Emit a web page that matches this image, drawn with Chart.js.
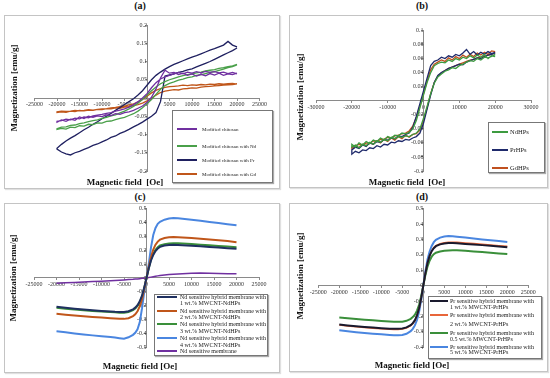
<!DOCTYPE html>
<html><head><meta charset="utf-8">
<script src="https://cdn.jsdelivr.net/npm/chart.js@4.4.1/dist/chart.umd.min.js"></script>
<style>
body{margin:0;background:#fff;width:550px;height:378px;overflow:hidden;position:relative;font-family:"Liberation Serif",serif;}
.box{position:absolute;border:1px solid #c4c4c4;box-sizing:border-box;box-shadow:1px 1px 1px #e0e0e0;}
canvas{position:absolute;}
.lbl{position:absolute;font-weight:bold;color:#111;white-space:pre;transform:translate(-50%,-50%);line-height:1;}
.ytl{position:absolute;font-weight:bold;color:#111;white-space:pre;transform:translate(-50%,-50%) rotate(-90deg);line-height:1;}
.leg{position:absolute;border:1px solid #777;background:#fff;box-sizing:border-box;box-shadow:1px 1px 1px #aaa;z-index:5;}
.li{position:absolute;white-space:pre;color:#222;line-height:1;transform:translateY(-50%);z-index:6;}
.sw{position:absolute;height:2px;transform:translateY(-50%);z-index:6;}
</style></head>
<body>
<script>
// ---------- DATA ----------
const fieldLoop = [-20000,-19000,-18000,-17000,-16000,-15000,-14000,-13000,-12000,-11000,-10000,-9000,-8000,-7000,-6000,-5000,-4000,-3000,-2000,-1000,0,1000,2000,3000,4000,5000,6000,7000,8000,9000,10000,11000,12000,13000,14000,15000,16000,17000,18000,19000,20000];

// (a) descending branch (listed in ascending field order) and ascending branch
const aPurpleDown = [-0.064,-0.062,-0.058,-0.060,-0.055,-0.057,-0.052,-0.054,-0.049,-0.047,-0.045,-0.042,-0.040,-0.036,-0.033,-0.030,-0.025,-0.018,-0.010,0.000,0.012,0.028,0.042,0.052,0.058,0.062,0.066,0.070,0.066,0.071,0.068,0.072,0.069,0.073,0.070,0.072,0.069,0.071,0.067,0.070,0.066];
const aPurpleUp   = [-0.066,-0.060,-0.064,-0.058,-0.061,-0.052,-0.056,-0.050,-0.053,-0.049,-0.051,-0.046,-0.048,-0.043,-0.045,-0.040,-0.038,-0.034,-0.028,-0.022,-0.012,0.002,0.025,0.055,0.076,0.068,0.070,0.064,0.068,0.062,0.066,0.060,0.065,0.061,0.067,0.063,0.068,0.062,0.066,0.064,0.068];
const aGreenDown  = [-0.084,-0.080,-0.079,-0.075,-0.074,-0.070,-0.068,-0.065,-0.062,-0.060,-0.056,-0.053,-0.049,-0.046,-0.041,-0.036,-0.030,-0.023,-0.014,-0.004,0.008,0.020,0.030,0.039,0.045,0.050,0.054,0.058,0.061,0.064,0.066,0.069,0.071,0.074,0.076,0.078,0.081,0.083,0.086,0.088,0.092];
const aGreenUp    = [-0.086,-0.083,-0.085,-0.080,-0.081,-0.076,-0.077,-0.072,-0.073,-0.068,-0.069,-0.064,-0.063,-0.059,-0.056,-0.053,-0.048,-0.043,-0.036,-0.027,-0.016,-0.004,0.010,0.024,0.034,0.040,0.044,0.049,0.052,0.056,0.058,0.062,0.064,0.067,0.070,0.072,0.076,0.079,0.083,0.086,0.091];
const aNavyDown   = [-0.138,-0.127,-0.118,-0.110,-0.103,-0.095,-0.087,-0.080,-0.072,-0.065,-0.057,-0.050,-0.042,-0.034,-0.026,-0.018,-0.010,-0.002,0.008,0.020,0.035,0.050,0.062,0.071,0.079,0.086,0.092,0.097,0.102,0.107,0.112,0.116,0.121,0.126,0.131,0.135,0.140,0.145,0.155,0.145,0.140];
const aNavyUp     = [-0.140,-0.148,-0.153,-0.156,-0.150,-0.146,-0.141,-0.136,-0.130,-0.126,-0.120,-0.115,-0.108,-0.104,-0.097,-0.092,-0.086,-0.079,-0.073,-0.066,-0.058,-0.050,-0.040,-0.010,0.060,0.063,0.066,0.070,0.073,0.077,0.080,0.085,0.090,0.095,0.100,0.106,0.112,0.118,0.124,0.130,0.137];
const aBrownDown  = [-0.038,-0.036,-0.037,-0.036,-0.034,-0.035,-0.034,-0.032,-0.033,-0.031,-0.030,-0.029,-0.027,-0.026,-0.024,-0.022,-0.019,-0.016,-0.011,-0.004,0.005,0.014,0.021,0.026,0.029,0.031,0.032,0.033,0.035,0.034,0.036,0.035,0.037,0.036,0.038,0.037,0.039,0.038,0.039,0.040,0.038];
const aBrownUp    = [-0.040,-0.038,-0.039,-0.036,-0.037,-0.034,-0.035,-0.033,-0.034,-0.031,-0.032,-0.029,-0.030,-0.027,-0.028,-0.025,-0.024,-0.021,-0.018,-0.014,-0.008,-0.001,0.008,0.015,0.019,0.021,0.023,0.022,0.025,0.026,0.028,0.027,0.030,0.031,0.032,0.033,0.034,0.035,0.036,0.037,0.039];

// (b)
const bNdDown = [-0.062,-0.066,-0.060,-0.063,-0.058,-0.061,-0.056,-0.058,-0.053,-0.056,-0.051,-0.053,-0.049,-0.050,-0.046,-0.047,-0.045,-0.040,-0.028,-0.010,0.008,0.026,0.040,0.050,0.053,0.055,0.054,0.058,0.056,0.060,0.058,0.062,0.060,0.064,0.061,0.065,0.062,0.066,0.060,0.064,0.063];
const bNdUp   = [-0.066,-0.063,-0.067,-0.062,-0.064,-0.059,-0.062,-0.057,-0.059,-0.055,-0.057,-0.052,-0.054,-0.051,-0.052,-0.050,-0.051,-0.048,-0.046,-0.040,-0.025,-0.008,0.010,0.025,0.034,0.038,0.042,0.044,0.047,0.046,0.050,0.052,0.055,0.057,0.056,0.060,0.058,0.062,0.061,0.063,0.066];
const bPrDown = [-0.070,-0.066,-0.068,-0.063,-0.065,-0.060,-0.062,-0.058,-0.059,-0.055,-0.056,-0.053,-0.054,-0.050,-0.051,-0.048,-0.046,-0.038,-0.022,-0.004,0.014,0.032,0.050,0.056,0.058,0.062,0.060,0.064,0.062,0.066,0.064,0.068,0.073,0.066,0.070,0.065,0.069,0.066,0.070,0.067,0.069];
const bPrUp   = [-0.076,-0.072,-0.074,-0.070,-0.071,-0.067,-0.068,-0.064,-0.066,-0.062,-0.063,-0.059,-0.060,-0.057,-0.058,-0.055,-0.056,-0.053,-0.051,-0.046,-0.032,-0.012,0.008,0.026,0.036,0.040,0.043,0.046,0.048,0.050,0.052,0.051,0.055,0.057,0.059,0.061,0.060,0.063,0.065,0.066,0.068];
const bGdDown = [-0.066,-0.064,-0.062,-0.063,-0.060,-0.061,-0.057,-0.058,-0.055,-0.055,-0.052,-0.053,-0.050,-0.049,-0.047,-0.046,-0.043,-0.036,-0.024,-0.008,0.010,0.028,0.044,0.052,0.055,0.058,0.056,0.061,0.058,0.063,0.060,0.065,0.062,0.066,0.063,0.068,0.065,0.069,0.066,0.071,0.070];
const bGdUp   = [-0.068,-0.064,-0.067,-0.062,-0.064,-0.060,-0.062,-0.057,-0.060,-0.055,-0.058,-0.053,-0.056,-0.051,-0.054,-0.049,-0.052,-0.048,-0.047,-0.042,-0.028,-0.010,0.010,0.026,0.035,0.040,0.043,0.046,0.048,0.050,0.052,0.054,0.056,0.058,0.059,0.061,0.062,0.064,0.065,0.066,0.068];

// (c) and (d) field values
const fieldCurve = [-20000,-18000,-16000,-14000,-12000,-10000,-8000,-7000,-6000,-5000,-4000,-3000,-2500,-2000,-1500,-1000,-500,0,500,1000,1500,2000,2500,3000,4000,5000,6000,7000,8000,10000,12000,14000,16000,18000,20000];

const cNavy   = [-0.208,-0.215,-0.222,-0.228,-0.233,-0.238,-0.242,-0.244,-0.245,-0.245,-0.240,-0.226,-0.214,-0.196,-0.168,-0.128,-0.068,0,0.068,0.126,0.166,0.194,0.212,0.224,0.234,0.238,0.239,0.238,0.236,0.232,0.228,0.224,0.219,0.214,0.210];
const cBrown  = [-0.258,-0.265,-0.271,-0.276,-0.281,-0.286,-0.290,-0.292,-0.294,-0.295,-0.290,-0.275,-0.262,-0.240,-0.205,-0.155,-0.080,0,0.080,0.150,0.205,0.240,0.262,0.276,0.288,0.293,0.295,0.294,0.292,0.288,0.283,0.278,0.272,0.266,0.258];
const cGreen  = [-0.215,-0.222,-0.228,-0.233,-0.238,-0.242,-0.246,-0.248,-0.250,-0.250,-0.245,-0.232,-0.220,-0.202,-0.175,-0.135,-0.072,0,0.072,0.133,0.175,0.203,0.222,0.234,0.244,0.248,0.250,0.250,0.248,0.244,0.240,0.235,0.230,0.226,0.222];
const cBlue   = [-0.385,-0.392,-0.400,-0.407,-0.414,-0.420,-0.426,-0.430,-0.434,-0.438,-0.428,-0.410,-0.395,-0.370,-0.320,-0.220,-0.100,0,0.100,0.220,0.310,0.360,0.390,0.405,0.420,0.428,0.432,0.430,0.427,0.420,0.412,0.404,0.396,0.388,0.380];
const cPurple = [-0.038,-0.035,-0.032,-0.029,-0.026,-0.023,-0.020,-0.018,-0.016,-0.014,-0.012,-0.010,-0.008,-0.007,-0.005,-0.003,-0.002,0,0.003,0.006,0.009,0.012,0.015,0.018,0.022,0.025,0.027,0.029,0.031,0.034,0.035,0.033,0.032,0.031,0.030];

const dBlack  = [-0.252,-0.258,-0.263,-0.268,-0.272,-0.276,-0.279,-0.280,-0.280,-0.278,-0.271,-0.256,-0.243,-0.224,-0.193,-0.147,-0.080,0,0.080,0.147,0.193,0.224,0.243,0.256,0.268,0.273,0.276,0.276,0.275,0.271,0.267,0.263,0.259,0.254,0.250];
const dOrange = [-0.256,-0.262,-0.267,-0.272,-0.276,-0.280,-0.283,-0.284,-0.284,-0.282,-0.275,-0.260,-0.247,-0.228,-0.196,-0.150,-0.082,0,0.082,0.150,0.196,0.228,0.247,0.260,0.272,0.278,0.281,0.282,0.281,0.277,0.273,0.268,0.264,0.259,0.255];
const dGreen  = [-0.207,-0.212,-0.217,-0.221,-0.225,-0.229,-0.232,-0.234,-0.235,-0.234,-0.228,-0.215,-0.204,-0.188,-0.162,-0.124,-0.068,0,0.068,0.124,0.162,0.188,0.204,0.214,0.222,0.226,0.228,0.229,0.229,0.226,0.222,0.218,0.214,0.209,0.205];
const dBlue   = [-0.290,-0.296,-0.302,-0.307,-0.312,-0.316,-0.320,-0.322,-0.322,-0.320,-0.312,-0.295,-0.280,-0.258,-0.222,-0.170,-0.092,0,0.092,0.170,0.222,0.258,0.282,0.297,0.312,0.319,0.322,0.321,0.318,0.312,0.306,0.300,0.295,0.290,0.284];

const legendA = ['Modified chitosan','Modified chitosan with Nd','Modified chitosan with Pr','Modified chitosan with Gd'];
const legendB = ['NdHPs','PrHPs','GdHPs'];
const legendC = [['Nd sensitive hybrid membrane with','1 wt.% MWCNT-NdHPs'],['Nd sensitive hybrid membrane with','2 wt.% MWCNT-NdHPs'],['Nd sensitive hybrid membrane with','3 wt.% MWCNT-NdHPs'],['Nd sensitive hybrid membrane with','4 wt.% MWCNT-NdHPs'],['Nd sensitive membrane']];
const legendD = [['Pr sensitive hybrid membrane with','1 wt.% MWCNT-PrHPs'],['Pr sensitive hybrid membrane with','2 wt.% MWCNT-PrHPs'],['Pr sensitive hybrid membrane with','0.5 wt.% MWCNT-PrHPs'],['Pr sensitive hybrid membrane with','5 wt.% MWCNT-PrHPs']];

// ---------- helpers ----------
function loop(field, down, up){
  const pts=[];
  for(let i=field.length-1;i>=0;i--) pts.push({x:field[i],y:down[i]});
  for(let i=0;i<field.length;i++) pts.push({x:field[i],y:up[i]});
  return pts;
}
function curve(field, vals){ return field.map((x,i)=>({x:x,y:vals[i]})); }
function ds(pts,color,w){ return {data:pts,borderColor:color,backgroundColor:color,showLine:true,pointRadius:0,borderWidth:w,tension:0,fill:false}; }

function el(cls, txt, css){
  const d=document.createElement('div'); d.className=cls; if(txt!==null) d.textContent=txt;
  Object.assign(d.style,css); document.body.appendChild(d); return d;
}

function makeChart(box, plot, xr, yr, xStep, yStep, datasets){
  el('box',null,{left:box.l+'px',top:box.t+'px',width:box.w+'px',height:box.h+'px'});
  const cv=document.createElement('canvas');
  cv.width=box.w; cv.height=box.h;
  Object.assign(cv.style,{left:box.l+'px',top:box.t+'px',width:box.w+'px',height:box.h+'px'});
  document.body.appendChild(cv);
  const tickFont={family:'Liberation Serif',size:6};
  const fmt=v=>String(Number(Number(v).toFixed(4)));
  new Chart(cv,{type:'scatter',data:{datasets:datasets},options:{
    responsive:false,animation:false,devicePixelRatio:1,
    layout:{padding:{left:plot.x0-box.l,right:box.l+box.w-plot.x1,top:plot.y0-box.t,bottom:box.t+box.h-plot.y1}},
    plugins:{legend:{display:false},tooltip:{enabled:false},title:{display:false}},
    scales:{
      x:{type:'linear',min:xr[0],max:xr[1],position:{y:0},
        ticks:{stepSize:xStep,autoSkip:false,maxRotation:0,minRotation:0,font:tickFont,color:'#333',padding:1,callback:fmt},
        grid:{display:true,drawOnChartArea:false,drawTicks:true,tickLength:2,color:'#8a8a8a'},
        border:{display:true,color:'#8a8a8a',width:1}},
      y:{type:'linear',min:yr[0],max:yr[1],position:{x:0},
        ticks:{stepSize:yStep,autoSkip:false,font:tickFont,color:'#333',padding:2,callback:fmt},
        grid:{display:true,drawOnChartArea:false,drawTicks:true,tickLength:2,color:'#8a8a8a'},
        border:{display:true,color:'#8a8a8a',width:1}}
    }
  }});
}

function legend(box, items, colors, swX, swW, txX, fs, rows){
  el('leg',null,{left:box.l+'px',top:box.t+'px',width:box.w+'px',height:box.h+'px'});
  items.forEach((it,i)=>{
    const lines=Array.isArray(it)?it:[it];
    const r=rows[i];
    el('sw',null,{left:swX+'px',top:r[0]+'px',width:swW+'px',background:colors[i]});
    lines.forEach((t,j)=>{ el('li',t,{left:txX+'px',top:r[j]+'px',fontSize:fs+'px'}); });
  });
}

// ---------- panel (a) ----------
const colA=['#7030a0','#4aa04a','#1f2060','#c0561a'];
makeChart({l:4,t:15,w:276,h:174},{x0:34.5,x1:259.5,y0:25,y1:171},[-25000,25000],[-0.2,0.2],5000,0.05,[
  ds(loop(fieldLoop,aPurpleDown,aPurpleUp),colA[0],1.3),
  ds(loop(fieldLoop,aGreenDown,aGreenUp),colA[1],1.3),
  ds(loop(fieldLoop,aNavyDown,aNavyUp),colA[2],1.3),
  ds(loop(fieldLoop,aBrownDown,aBrownUp),colA[3],1.3)
]);
legend({l:172,t:110,w:101,h:73},legendA,colA,177,20,202,5,[[128.5],[145.5],[159.5],[173.5]]);

// ---------- panel (b) ----------
const colB=['#3d9b40','#1f2a6b','#c0501f'];
makeChart({l:289,t:15,w:259,h:173},{x0:316,x1:531,y0:30.5,y1:171},[-30000,30000],[-0.1,0.1],10000,0.02,[
  ds(loop(fieldLoop,bNdDown,bNdUp),colB[0],1.3),
  ds(loop(fieldLoop,bPrDown,bPrUp),colB[1],1.3),
  ds(loop(fieldLoop,bGdDown,bGdUp),colB[2],1.3)
]);
legend({l:488,t:122,w:57,h:51},legendB,colB,492,16,510,6.5,[[131.7],[150],[168.3]]);

// ---------- panel (c) ----------
const colC=['#1f3060','#c0561a','#3a8f3a','#4a86e0','#7030a0'];
makeChart({l:4,t:203,w:276,h:170},{x0:34,x1:259,y0:207,y1:347.3},[-25000,25000],[-0.5,0.5],5000,0.1,[
  ds(curve(fieldCurve,cNavy),colC[0],2),
  ds(curve(fieldCurve,cBrown),colC[1],2),
  ds(curve(fieldCurve,cGreen),colC[2],2),
  ds(curve(fieldCurve,cBlue),colC[3],2),
  ds(curve(fieldCurve,cPurple),colC[4],1.5)
]);
legend({l:154,t:294,w:114,h:62},legendC,colC,157,20,180,6,[[296.8,303.4],[310.6,317.2],[324.2,330.8],[338,344.6],[351.2]]);

// ---------- panel (d) ----------
const colD=['#1a1a2e','#e8663a','#3a8f3a','#4a86e0'];
makeChart({l:289,t:203,w:259,h:169},{x0:318.3,x1:528.3,y0:207,y1:347.3},[-25000,25000],[-0.4,0.5],5000,0.1,[
  ds(curve(fieldCurve,dBlack),colD[0],2),
  ds(curve(fieldCurve,dOrange),colD[1],1.5),
  ds(curve(fieldCurve,dGreen),colD[2],2),
  ds(curve(fieldCurve,dBlue),colD[3],2)
]);
legend({l:428,t:296,w:114,h:63},legendD,colD,430,18,450,6,[[301.3,306.5],[315.3,324],[333,338.7],[347.3,352.3]]);

// ---------- titles ----------
[['(a)',140,6],['(b)',422,6],['(c)',140,197],['(d)',422,197]].forEach(t=>el('lbl',t[0],{left:t[1]+'px',top:t[2]+'px',fontSize:'10px'}));
[['Magnetic field  [Oe]',125,181.5],['Magnetic field  [Oe]',407,181.5],['Magnetic field [Oe]',140,366],['Magnetic field [Oe]',412,365]].forEach(t=>el('lbl',t[0],{left:t[1]+'px',top:t[2]+'px',fontSize:'9px'}));
[['Magnetization [emu/g]',14,88],['Magnetization [emu/g]',300,97],['Magnetization [emu/g]',13,278],['Magnetization [emu/g]',300,276]].forEach(t=>el('ytl',t[0],{left:t[1]+'px',top:t[2]+'px',fontSize:'9px'}));
</script>
</body></html>
